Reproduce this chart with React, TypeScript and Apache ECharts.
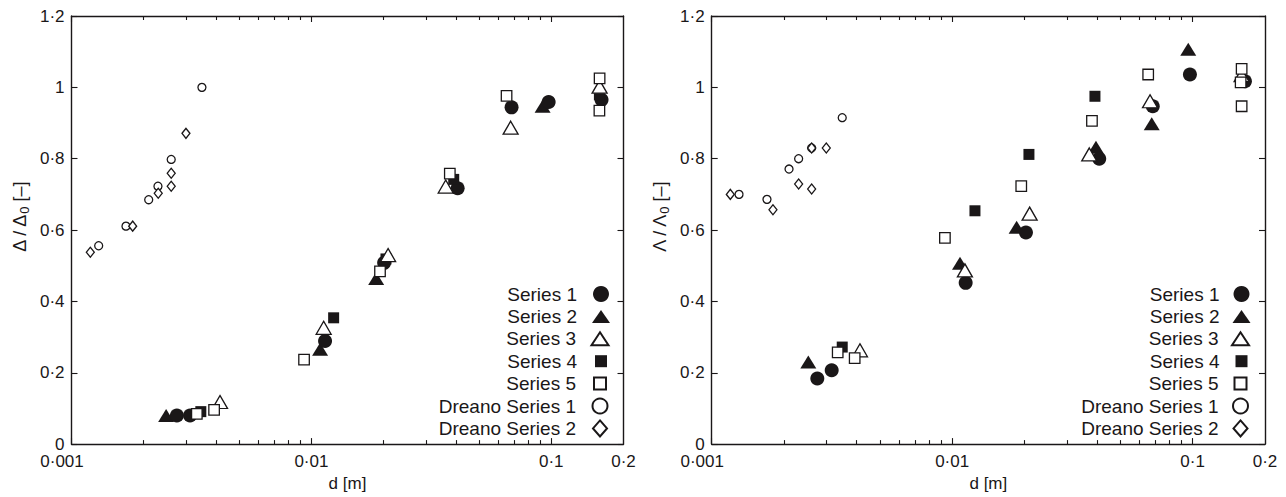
import React, { useEffect, useRef } from "react";
import * as echarts from "echarts";

// ---------- axis definitions ----------
const X_MIN = 0.001;
const X_MAX = 0.2;
const Y_MIN = 0;
const Y_MAX = 1.2;
const Y_INTERVAL = 0.2;
const xLabelValues = [0.001, 0.01, 0.1, 0.2];
const xMajorTicks = [0.001, 0.01, 0.1];
const xMinorTicks = [
  0.002, 0.003, 0.004, 0.005, 0.006, 0.007, 0.008, 0.009,
  0.02, 0.03, 0.04, 0.05, 0.06, 0.07, 0.08, 0.09,
];
const xAxisName = "d [m]";

const seriesNames = [
  "Series 1",
  "Series 2",
  "Series 3",
  "Series 4",
  "Series 5",
  "Dreano Series 1",
  "Dreano Series 2",
];

// ---------- left panel data (d [m], Δ/Δ0) ----------
const leftSeries1 = [
  [0.00275, 0.08], [0.00312, 0.08], [0.0114, 0.289], [0.0201, 0.508],
  [0.0407, 0.717], [0.0683, 0.944], [0.0975, 0.959], [0.162, 0.965],
];
const leftSeries2 = [
  [0.00248, 0.08], [0.01087, 0.266], [0.01862, 0.464], [0.092, 0.947],
];
const leftSeries3 = [
  [0.00416, 0.118], [0.01125, 0.326], [0.02088, 0.53], [0.0363, 0.722],
  [0.0677, 0.887], [0.159, 1.002],
];
const leftSeries4 = [
  [0.00346, 0.091], [0.01238, 0.354], [0.02046, 0.519], [0.0392, 0.742],
  [0.1587, 0.979],
];
const leftSeries5 = [
  [0.00333, 0.085], [0.00393, 0.096], [0.00932, 0.237], [0.01932, 0.484],
  [0.03776, 0.758], [0.0651, 0.976], [0.159, 1.025], [0.1587, 0.935],
];
const leftDreano1 = [
  [0.001298, 0.556], [0.001687, 0.611], [0.002098, 0.685], [0.002293, 0.723],
  [0.002604, 0.798], [0.003497, 1.0],
];
const leftDreano2 = [
  [0.001198, 0.538], [0.001799, 0.611], [0.002299, 0.703], [0.002604, 0.723],
  [0.002604, 0.759], [0.003, 0.871],
];

// ---------- right panel data (d [m], Λ/Λ0) ----------
const rightSeries1 = [
  [0.002749, 0.184], [0.003155, 0.207], [0.01138, 0.452], [0.02027, 0.593],
  [0.04089, 0.8], [0.06826, 0.947], [0.09745, 1.036], [0.165, 1.017],
];
const rightSeries2 = [
  [0.002522, 0.23], [0.01078, 0.507], [0.01854, 0.608], [0.03963, 0.832],
  [0.0676, 0.898], [0.0959, 1.107],
];
const rightSeries3 = [
  [0.004136, 0.263], [0.0113, 0.487], [0.021, 0.646], [0.03717, 0.812],
  [0.06652, 0.961], [0.1599, 1.034],
];
const rightSeries4 = [
  [0.00349, 0.272], [0.01244, 0.654], [0.02086, 0.812], [0.03925, 0.975],
];
const rightSeries5 = [
  [0.003342, 0.257], [0.003932, 0.241], [0.00933, 0.578], [0.01938, 0.723],
  [0.03814, 0.906], [0.06535, 1.036], [0.1599, 1.052], [0.1584, 1.014],
  [0.1599, 0.947],
];
const rightDreano1 = [
  [0.001299, 0.7], [0.001698, 0.686], [0.002097, 0.771], [0.002299, 0.8],
  [0.002604, 0.83], [0.00349, 0.915],
];
const rightDreano2 = [
  [0.001195, 0.7], [0.001798, 0.657], [0.002299, 0.729], [0.002604, 0.715],
  [0.002604, 0.83], [0.002996, 0.83],
];

// ---------- styling ----------
const INK = "#1a1718";
const FONT = "'Liberation Sans', Arial, Helvetica, sans-serif";

type MarkerStyle = {
  symbol: string;
  size: number | number[];
  legend: number[];
  filled: boolean;
};
const markerStyles: Record<string, MarkerStyle> = {
  "Series 1": { symbol: "circle", size: 14, legend: [16, 16], filled: true },
  "Series 2": { symbol: "triangle", size: [16, 13], legend: [18, 13], filled: true },
  "Series 3": { symbol: "triangle", size: [15, 13], legend: [17, 13], filled: false },
  "Series 4": { symbol: "rect", size: 11, legend: [12, 12], filled: true },
  "Series 5": { symbol: "rect", size: 10.5, legend: [12, 12], filled: false },
  "Dreano Series 1": { symbol: "circle", size: 8, legend: [15, 15], filled: false },
  "Dreano Series 2": { symbol: "diamond", size: [8, 10], legend: [14, 16], filled: false },
};
const drawOrder = [
  "Series 2", "Series 1", "Series 4", "Series 3", "Series 5",
  "Dreano Series 1", "Dreano Series 2",
];

const panels = [
  {
    yName: "{a|Δ / Δ}{s|0}{a| [–]}",
    grid: { left: 71.5, right: 662.5, top: 16, bottom: 44 },
    legendCx: 601,
    legendTextEnd: 577,
    data: {
      "Series 1": leftSeries1,
      "Series 2": leftSeries2,
      "Series 3": leftSeries3,
      "Series 4": leftSeries4,
      "Series 5": leftSeries5,
      "Dreano Series 1": leftDreano1,
      "Dreano Series 2": leftDreano2,
    } as Record<string, number[][]>,
  },
  {
    yName: "{a|Λ / Λ}{s|0}{a| [–]}",
    grid: { left: 711.7, right: 21, top: 16, bottom: 44 },
    legendCx: 1241.5,
    legendTextEnd: 1219.5,
    data: {
      "Series 1": rightSeries1,
      "Series 2": rightSeries2,
      "Series 3": rightSeries3,
      "Series 4": rightSeries4,
      "Series 5": rightSeries5,
      "Dreano Series 1": rightDreano1,
      "Dreano Series 2": rightDreano2,
    } as Record<string, number[][]>,
  },
];

const LEGEND_FIRST_ROW = 294;
const LEGEND_PITCH = 22.4;
const WIDTH = 1286;
const HEIGHT = 497;

const fmtNum = (v: number) =>
  String(parseFloat(Number(v).toPrecision(6))).replace(".", "·");
// the first x label sits a little left of the corner, as in the reference
const fmtX = (v: number) =>
  Math.abs(v - X_MIN) < 1e-9 ? "{m|" + fmtNum(v) + "}" : fmtNum(v);
const fmtY = (v: number) =>
  String(parseFloat(Number(v).toFixed(2))).replace(".", "·");

function buildOption() {
  const lineStyle = { color: INK, width: 1.4 };
  const tickStyle = { color: INK, width: 1.1 };
  const xAxis: any[] = [];
  const yAxis: any[] = [];
  const series: any[] = [];
  const legend: any[] = [];

  panels.forEach((p, pi) => {
    const common = {
      type: "log",
      logBase: 10,
      gridIndex: pi,
      min: X_MIN,
      max: X_MAX,
      splitLine: { show: false },
      minorTick: { show: false },
      minorSplitLine: { show: false },
    };
    xAxis.push(
      {
        ...common,
        position: "bottom",
        name: xAxisName,
        nameLocation: "middle",
        nameGap: 28,
        nameTextStyle: { color: INK, fontSize: 17, fontFamily: FONT },
        axisLine: { show: true, onZero: false, lineStyle },
        axisTick: { show: true, inside: true, length: 6, customValues: xMajorTicks, lineStyle: tickStyle },
        axisLabel: {
          show: true,
          customValues: xLabelValues,
          margin: 9,
          formatter: fmtX,
          color: INK,
          fontSize: 17,
          fontFamily: FONT,
          rich: {
            m: { fontSize: 17, fontFamily: FONT, color: INK, padding: [0, 19, 0, 0] },
          },
        },
      },
      {
        ...common,
        position: "bottom",
        axisLine: { show: false, onZero: false },
        axisTick: { show: true, inside: true, length: 4, customValues: xMinorTicks, lineStyle: tickStyle },
        axisLabel: { show: false },
      },
      {
        ...common,
        position: "top",
        axisLine: { show: true, onZero: false, lineStyle },
        axisTick: { show: true, inside: true, length: 6, customValues: xMajorTicks, lineStyle: tickStyle },
        axisLabel: { show: false },
      },
      {
        ...common,
        position: "top",
        axisLine: { show: false, onZero: false },
        axisTick: { show: true, inside: true, length: 4, customValues: xMinorTicks, lineStyle: tickStyle },
        axisLabel: { show: false },
      }
    );
    yAxis.push(
      {
        type: "value",
        gridIndex: pi,
        position: "left",
        min: Y_MIN,
        max: Y_MAX,
        interval: Y_INTERVAL,
        name: p.yName,
        nameLocation: "middle",
        nameGap: 41,
        nameTextStyle: {
          color: INK,
          fontFamily: FONT,
          padding: [0, 0, 0, 26],
          rich: {
            a: { fontSize: 18, fontFamily: FONT, color: INK },
            s: { fontSize: 13, fontFamily: FONT, color: INK, padding: [9, 0, 0, 0] },
          },
        },
        axisLine: { show: true, onZero: false, lineStyle },
        axisTick: { show: true, inside: true, length: 6, lineStyle: tickStyle },
        axisLabel: { margin: 7, formatter: fmtY, color: INK, fontSize: 17, fontFamily: FONT },
        splitLine: { show: false },
      },
      {
        type: "value",
        gridIndex: pi,
        position: "right",
        min: Y_MIN,
        max: Y_MAX,
        interval: Y_INTERVAL,
        axisLine: { show: true, onZero: false, lineStyle },
        axisTick: { show: true, inside: true, length: 6, lineStyle: tickStyle },
        axisLabel: { show: false },
        splitLine: { show: false },
      }
    );

    drawOrder.forEach((name) => {
      const st = markerStyles[name];
      series.push({
        type: "scatter",
        name,
        xAxisIndex: pi * 4,
        yAxisIndex: pi * 2,
        data: p.data[name],
        symbol: st.symbol,
        symbolSize: st.size,
        itemStyle: st.filled
          ? { color: INK, borderWidth: 0, opacity: 1 }
          : { color: "#ffffff", borderColor: INK, borderWidth: 1.3, opacity: 1 },
        emphasis: { disabled: true },
      });
    });

    seriesNames.forEach((name, i) => {
      const st = markerStyles[name];
      const [w, h] = st.legend;
      const iconLeft = p.legendCx - w / 2;
      const pad = Math.max(0, iconLeft - 5 - p.legendTextEnd);
      legend.push({
        data: [name],
        orient: "horizontal",
        align: "right",
        right: WIDTH - (p.legendCx + w / 2),
        top: LEGEND_FIRST_ROW + i * LEGEND_PITCH - 10,
        itemWidth: w,
        itemHeight: h,
        padding: 0,
        selectedMode: false,
        itemStyle: { opacity: 1 },
        textStyle: {
          color: INK,
          fontSize: 19,
          fontFamily: FONT,
          lineHeight: 20,
          padding: [0, pad, 0, 0],
        },
      });
    });
  });

  return {
    animation: false,
    backgroundColor: "#ffffff",
    textStyle: { fontFamily: FONT },
    grid: panels.map((p) => ({ ...p.grid, containLabel: false })),
    xAxis,
    yAxis,
    legend,
    series,
  };
}

export default function App() {
  const ref = useRef<HTMLDivElement>(null);
  useEffect(() => {
    if (!ref.current) return;
    const chart = echarts.init(ref.current, undefined, { renderer: "svg" });
    chart.setOption(buildOption() as any);
    return () => chart.dispose();
  }, []);
  return (
    <div
      ref={ref}
      style={{ position: "absolute", left: 0, top: 0, width: WIDTH, height: HEIGHT }}
    />
  );
}
